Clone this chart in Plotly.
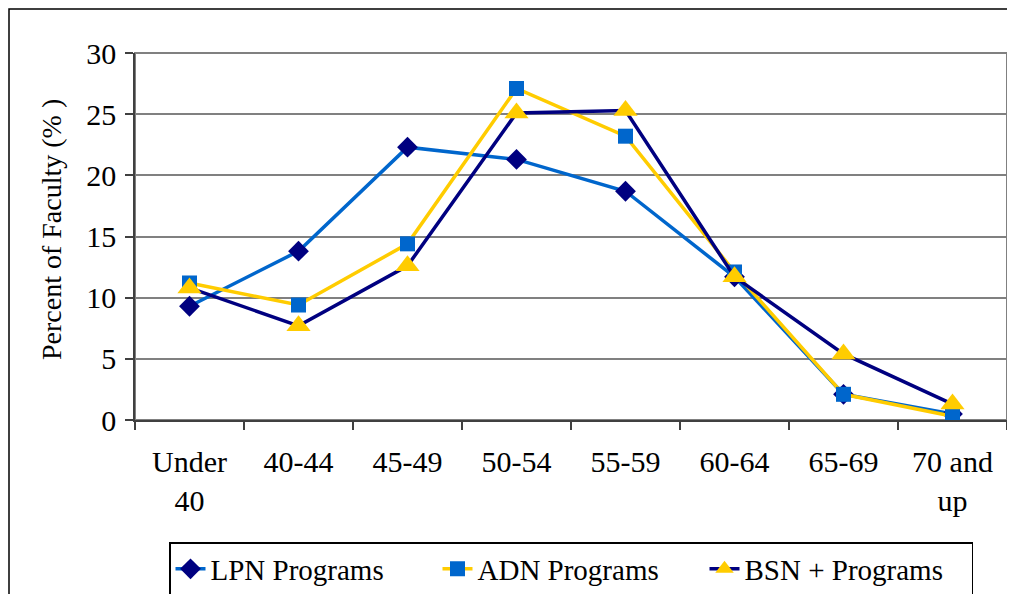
import plotly.graph_objects as go

categories = ["Under<br>40", "40-44", "45-49", "50-54", "55-59", "60-64", "65-69", "70 and<br>up"]
lpn = [9.3, 13.8, 22.3, 21.3, 18.7, 11.7, 2.1, 0.5]
adn = [11.2, 9.4, 14.4, 27.1, 23.2, 12.1, 2.1, 0.3]
bsn = [10.8, 7.7, 12.6, 25.1, 25.3, 11.7, 5.4, 1.3]

LIGHT = "#0066CC"
NAVY = "#000080"
YELLOW = "#FFCC00"
FONT = "Liberation Serif"

fig = go.Figure()
fig.add_trace(go.Scatter(x=categories, y=lpn, name="LPN Programs", mode="lines+markers",
                         line=dict(color=LIGHT, width=3.5),
                         marker=dict(symbol="diamond", size=16, color=NAVY)))
fig.add_trace(go.Scatter(x=categories, y=adn, name="ADN Programs", mode="lines+markers",
                         line=dict(color=YELLOW, width=3.5),
                         marker=dict(symbol="square", size=15, color=LIGHT)))
fig.add_trace(go.Scatter(x=categories, y=bsn, name="BSN + Programs", mode="lines+markers",
                         line=dict(color=NAVY, width=3.5),
                         marker=dict(symbol="triangle-up", size=21, color=YELLOW)))

# page body adds an 8px offset; compensate so screenshot pixels match reference
OFF = 8
W, H = 1015 - OFF, 594 - OFF
L = 135 - OFF
T = 53 - OFF
R = W - (1007 - OFF)
B = H - (420 - OFF)
pw, ph = W - L - R, H - T - B

def px_x(x):
    return (x - OFF - L) / pw

def px_y(y):
    return (H - B - (y - OFF)) / ph

fig.update_layout(
    template="none",
    width=W, height=H,
    margin=dict(l=L, r=R, t=T, b=B, autoexpand=False),
    paper_bgcolor="white", plot_bgcolor="white",
    font=dict(family=FONT, size=28, color="black"),
    showlegend=True,
    legend=dict(orientation="h", x=0.5, xanchor="center",
                y=px_y(569), yanchor="middle",
                bordercolor="black", borderwidth=1.5, bgcolor="white",
                font=dict(family=FONT, size=29, color="black"),
                entrywidth=222, entrywidthmode="pixels",
                itemsizing="trace", tracegroupgap=0),
    xaxis=dict(type="category", range=[-0.5, 7.5], tickson="boundaries",
               automargin=False,
               ticks="outside", ticklen=8, tickwidth=1.5, tickcolor="#404040",
               ticklabelstandoff=14,
               showline=True, linecolor="#404040", linewidth=1.5,
               showgrid=False, zeroline=False,
               tickfont=dict(family=FONT, size=30, color="black")),
    yaxis=dict(range=[0, 30], dtick=5, tick0=0, automargin=False,
               ticks="outside", ticklen=8, tickwidth=1.5, tickcolor="#404040",
               ticklabelstandoff=3,
               showline=True, linecolor="#404040", linewidth=1.5,
               showgrid=True, gridcolor="#808080", gridwidth=1.5,
               zeroline=False,
               tickfont=dict(family=FONT, size=30, color="black")),
    annotations=[
        dict(text="Percent of Faculty (% )", xref="paper", yref="paper",
             x=px_x(51), y=px_y(230), xanchor="center", yanchor="middle",
             textangle=-90, showarrow=False,
             font=dict(family=FONT, size=28, color="black")),
    ],
    shapes=[
        dict(type="rect", xref="paper", yref="paper", x0=0, x1=1, y0=0, y1=1,
             line=dict(color="#808080", width=2), layer="below"),
        dict(type="rect", xref="paper", yref="paper",
             x0=px_x(9), x1=px_x(1030), y0=px_y(9), y1=px_y(620),
             line=dict(color="black", width=1.5), layer="below"),
    ],
)

fig.write_html("out.html")
